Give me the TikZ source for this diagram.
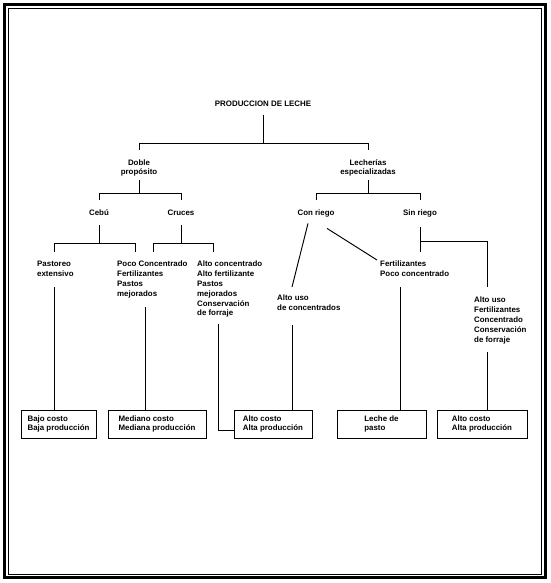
\documentclass[tikz,border=0pt]{standalone}
\usepackage{fontspec}
\setmainfont{Liberation Sans}
\begin{document}
\begin{tikzpicture}[x=1pt,y=-1pt,
  every node/.style={font=\bfseries\fontsize{7.9}{9.8}\selectfont, inner sep=0pt},
  lbl/.style={align=center},
  blk/.style={align=left, anchor=north west},
  res/.style={draw, line width=0.95pt, minimum height=28pt, align=left},
  ln/.style={line width=0.95pt},
]
\useasboundingbox (0,0) rectangle (550,583);
\draw[line width=2.2pt] (4.5,4.5) rectangle (545.5,577.5);
\draw[line width=1pt] (8.2,8.2) rectangle (541.8,574.3);

% labels
\node[lbl] (title) at (263,104) {PRODUCCION DE LECHE};
\node[lbl] (doble) at (139,168) {Doble\\propósito};
\node[lbl] (lech) at (368,168) {Lecherías\\especializadas};
\node[lbl] (cebu) at (99,213) {Cebú};
\node[lbl] (cruces) at (181,213) {Cruces};
\node[lbl] (con) at (316,213) {Con riego};
\node[lbl] (sin) at (420,213) {Sin riego};
\node[blk] (pasto) at (37,261) {Pastoreo\\extensivo};
\node[blk] (poco) at (117,261) {Poco Concentrado\\Fertilizantes\\Pastos\\mejorados};
\node[blk] (altoc) at (197,261) {Alto concentrado\\Alto fertilizante\\Pastos\\mejorados\\Conservación\\de forraje};
\node[blk] (fert) at (380,261) {Fertilizantes\\Poco concentrado};
\node[blk] (usoc) at (277,295) {Alto uso\\de concentrados};
\node[blk] (uso2) at (474,297) {Alto uso\\Fertilizantes\\Concentrado\\Conservación\\de forraje};

% result boxes
\node[res, minimum width=75pt] (bajo) at (58.5,424) {Bajo costo\\Baja producción};
\node[res, minimum width=98pt] (med) at (157,424) {Mediano costo\\Mediana producción};
\node[res, minimum width=78pt] (alto1) at (273,424) {Alto costo\\Alta producción};
\node[res, minimum width=89pt] (leche) at (381.5,424) {Leche de\\pasto};
\node[res, minimum width=90pt] (alto2) at (482,424) {Alto costo\\Alta producción};

% level 1
\coordinate (j1) at (263,143);
\draw[ln, shorten <=8pt] (title.south) -- (j1);
\draw[ln] (doble.north |- j1) -- (lech.north |- j1);
\draw[ln] (doble.north |- j1) -- ++(0,7);
\draw[ln] (lech.north |- j1) -- ++(0,7);

% level 2
\coordinate (j2) at (139,193);
\draw[ln, shorten <=3.6pt] (doble.south) -- (j2);
\draw[ln] (cebu.north |- j2) -- (cruces.north |- j2);
\draw[ln] (cebu.north |- j2) -- ++(0,7);
\draw[ln] (cruces.north |- j2) -- ++(0,7);
\coordinate (j3) at (368,193);
\draw[ln, shorten <=3.6pt] (lech.south) -- (j3);
\draw[ln] (con.north |- j3) -- (sin.north |- j3);
\draw[ln] (con.north |- j3) -- ++(0,7);
\draw[ln] (sin.north |- j3) -- ++(0,7);

% Cebu
\coordinate (j4) at (99,243);
\coordinate (c1) at (54,243);
\coordinate (c2) at (135,243);
\draw[ln, shorten <=9pt] (cebu.south) -- (j4);
\draw[ln] (c1) -- (c2);
\draw[ln] (c1) -- ++(0,9);
\draw[ln] (c2) -- ++(0,9);
% Cruces
\coordinate (j5) at (181,243);
\coordinate (c3) at (153,243);
\coordinate (c4) at (213,243);
\draw[ln, shorten <=9pt] (cruces.south) -- (j5);
\draw[ln] (c3) -- (c4);
\draw[ln] (c3) -- ++(0,9);
\draw[ln] (c4) -- ++(0,9);

% Con riego
\draw[ln] ([shift={(-8,6.5)}]con.south) -- ([shift={(15,-8)}]usoc.north west);
\draw[ln] ([shift={(11,11.5)}]con.south) -- ([shift={(-3,-1)}]fert.north west);
% Sin riego
\coordinate (s1) at (420,252);
\coordinate (s2) at (420,241);
\coordinate (s3) at (487,287);
\draw[ln, shorten <=10.5pt] (sin.south) -- (s1);
\draw[ln] (s2) -| (s3);

% to result boxes
\coordinate (p1) at (54,287);
\coordinate (p2) at (145,307);
\coordinate (p3) at (218,324);
\coordinate (p4) at (292,325);
\coordinate (p5) at (400,287);
\coordinate (p6) at (487,352);
\draw[ln] (p1) -- (p1 |- bajo.north);
\draw[ln] (p2) -- (p2 |- med.north);
\draw[ln] (p3) |- ([yshift=-6pt]alto1.west);
\draw[ln] (p4) -- (p4 |- alto1.north);
\draw[ln] (p5) -- (p5 |- leche.north);
\draw[ln] (p6) -- (p6 |- alto2.north);
\end{tikzpicture}
\end{document}
